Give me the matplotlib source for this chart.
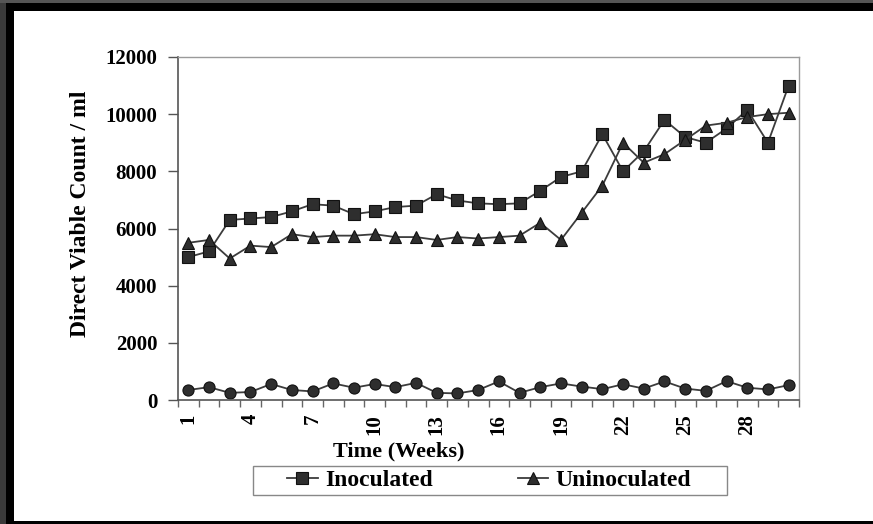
import numpy as np
import matplotlib
matplotlib.use("Agg")
import matplotlib.pyplot as plt
from matplotlib.patches import Rectangle
from matplotlib.ticker import FixedLocator, NullFormatter

plt.rcParams['font.family'] = ['Liberation Serif', 'DejaVu Serif']
plt.rcParams['font.weight'] = 'bold'

# Данные: недели и значения трёх серий
weeks = list(range(1, 31))
inoculated = [5000, 5200, 6300, 6350, 6400, 6600, 6850, 6800, 6500, 6600,
              6750, 6800, 7200, 6980, 6880, 6850, 6880, 7320, 7800, 8000,
              9300, 8000, 8700, 9800, 9200, 9000, 9500, 10150, 9000, 11000]
uninoculated = [5500, 5600, 4950, 5400, 5350, 5800, 5700, 5750, 5750, 5800,
                5700, 5700, 5600, 5700, 5650, 5700, 5750, 6200, 5600, 6550,
                7500, 9000, 8300, 8600, 9100, 9600, 9700, 9900, 10000, 10050]
control = [350, 450, 250, 280, 560, 350, 300, 580, 430, 560,
           450, 600, 250, 230, 350, 650, 250, 450, 580, 470,
           380, 550, 400, 650, 400, 320, 660, 430, 370, 520]
x_labels = [1, 4, 7, 10, 13, 16, 19, 22, 25, 28]
y_ticks = [0, 2000, 4000, 6000, 8000, 10000, 12000]

W, H = 873, 524
fig = plt.figure(figsize=(W / 100, H / 100), dpi=100)
fig.patch.set_facecolor('white')

# Прямоугольник в пикселях (от верхнего левого угла)
def px_rect(x0, y0, w, h, color, fill=True, lw=0, z=0):
    r = Rectangle((x0 / W, 1 - (y0 + h) / H), w / W, h / H,
                  transform=fig.transFigure, zorder=z, fill=fill,
                  edgecolor=color, facecolor=color if fill else 'none', lw=lw)
    fig.patches.append(r)

# Рамка скана (серые и чёрные полосы)
px_rect(0, 0, 6, H, '#3a3a3a')
px_rect(6, 0, 8, H, 'black')
px_rect(0, 0, W, 3, '#555555')
px_rect(6, 3, W, 8, 'black')
px_rect(6, 521, W, 3, 'black')

ax = fig.add_axes([178 / W, (H - 400) / H, (799 - 178) / W, (400 - 57) / H])

line_col = '#3c3c3c'
face = '#2e2e2e'
ax.plot(weeks, inoculated, color=line_col, lw=1.3, marker='s', ms=9,
        mfc=face, mec='#111111', mew=0.8, label='Inoculated')
ax.plot(weeks, uninoculated, color=line_col, lw=1.3, marker='^', ms=9,
        mfc=face, mec='#111111', mew=0.8, label='Uninoculated')
ax.plot(weeks, control, color=line_col, lw=1.3, marker='o', ms=8,
        mfc=face, mec='#111111', mew=0.8)

ax.set_xlim(0.5, 30.5)
ax.set_ylim(0, 12000)

for side in ['top', 'right']:
    ax.spines[side].set_color('#9a9a9a')
    ax.spines[side].set_linewidth(1.0)
for side in ['left', 'bottom']:
    ax.spines[side].set_color('#555555')
    ax.spines[side].set_linewidth(1.2)

ax.set_yticks(y_ticks)
ax.set_yticklabels([str(v) for v in y_ticks], fontsize=15, fontweight='bold')
ax.tick_params(axis='y', direction='out', length=7, width=1, color='#555555', pad=8)

ax.set_xticks(x_labels)
ax.set_xticklabels([str(v) for v in x_labels], rotation=90, fontsize=15,
                   fontweight='bold')
ax.tick_params(axis='x', which='major', length=0, pad=10)
ax.xaxis.set_minor_locator(FixedLocator(np.arange(0.5, 31, 1)))
ax.xaxis.set_minor_formatter(NullFormatter())
ax.tick_params(axis='x', which='minor', direction='out', length=5, width=1,
               color='#666666')

# Подписи осей
fig.text(399 / W, 1 - 451 / H, 'Time (Weeks)', ha='center', va='center',
         fontsize=16, fontweight='bold')
fig.text(81 / W, 1 - 214 / H, 'Direct Viable Count / ml', ha='center',
         va='center', rotation=90, fontsize=17, fontweight='bold')

# Легенда без рамки, рамка рисуется отдельно
leg = fig.legend(loc='center', bbox_to_anchor=(489 / W, 1 - 480.5 / H), ncol=2,
                 frameon=False, handlelength=1.3,
                 columnspacing=3.6, handletextpad=0.3, borderpad=0.15,
                 borderaxespad=0,
                 prop={'family': 'Liberation Serif', 'weight': 'bold', 'size': 17})
px_rect(253, 466, 474, 29, '#888888', fill=False, lw=1.0, z=3)

fig.savefig('out.png', dpi=100)
